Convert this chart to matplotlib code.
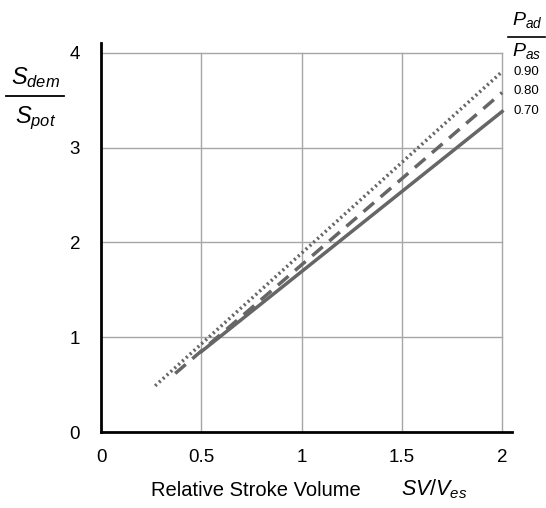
import matplotlib
matplotlib.use('Agg')
import matplotlib.pyplot as plt
import numpy as np
from matplotlib.lines import Line2D

plt.rcParams['font.family'] = ['Liberation Sans', 'DejaVu Sans']
plt.rcParams['mathtext.fontset'] = 'custom'
plt.rcParams['mathtext.it'] = 'Liberation Sans:italic'
plt.rcParams['mathtext.rm'] = 'Liberation Sans'

# 数据：每条线的起点和终点 (SV/Ves, Sdem/Spot)
ratio_labels = ['0.90', '0.80', '0.70']
x_090 = [0.27, 2.0]
y_090 = [0.49, 3.80]
x_080 = [0.37, 2.0]
y_080 = [0.62, 3.58]
x_070 = [0.50, 2.0]
y_070 = [0.85, 3.38]
xticks = [0, 0.5, 1, 1.5, 2]
yticks = [0, 1, 2, 3, 4]

fig = plt.figure(figsize=(5.46, 5.08), dpi=100)
ax = fig.add_axes([0.185, 0.149, 0.753, 0.766])

gc = '#a6a6a6'
# 网格线，只画到 x=2, y=4
for xv in xticks[1:]:
    ax.plot([xv, xv], [0, 4], color=gc, lw=1.0, zorder=1)
for yv in yticks[1:]:
    ax.plot([0, 2], [yv, yv], color=gc, lw=1.0, zorder=1)

lc = '#666666'
ax.plot(x_090, y_090, color=lc, lw=2.5, linestyle=(0, (0.6, 0.9)), zorder=3)
ax.plot(x_080, y_080, color=lc, lw=2.5, linestyle=(0, (4, 2.5)), zorder=3)
ax.plot(x_070, y_070, color=lc, lw=2.5, linestyle='-', zorder=3)

ax.set_xlim(0, 2.05)
ax.set_ylim(0, 4.1)
ax.set_xticks(xticks)
ax.set_xticklabels(['0', '0.5', '1', '1.5', '2'])
ax.set_yticks(yticks)
ax.tick_params(length=0, labelsize=13.5, pad=12)
ax.tick_params(axis='y', pad=15)
for s in ['top', 'right']:
    ax.spines[s].set_visible(False)
for s in ['left', 'bottom']:
    ax.spines[s].set_linewidth(2)
    ax.spines[s].set_color('black')

# x轴标签
fig.text(256/546, 1 - 490/508, 'Relative Stroke Volume', ha='center', va='center', fontsize=14.5)
fig.text(434/546, 1 - 489/508, r'$SV/V_{es}$', ha='center', va='center', fontsize=15.5)

# y轴分数标签
fig.text(36/546, 1 - 78/508, r'$S_{dem}$', ha='center', va='center', fontsize=17)
fig.text(36/546, 1 - 118/508, r'$S_{pot}$', ha='center', va='center', fontsize=17)
fig.add_artist(Line2D([6/546, 64/546], [1 - 96/508, 1 - 96/508], color='black', lw=1.3))

# 右侧比值标签
fig.text(527/546, 1 - 20/508, r'$P_{ad}$', ha='center', va='center', fontsize=14)
fig.text(527/546, 1 - 51/508, r'$P_{as}$', ha='center', va='center', fontsize=14)
fig.add_artist(Line2D([508/546, 545/546], [1 - 37/508, 1 - 37/508], color='black', lw=1.2))
for lab, yp in zip(ratio_labels, [72, 91, 111]):
    fig.text(513/546, 1 - yp/508, lab, ha='left', va='center', fontsize=9.5)

fig.savefig('out.png', dpi=100)
